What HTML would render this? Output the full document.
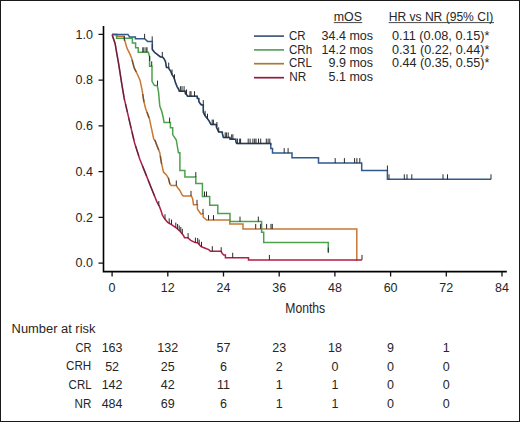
<!DOCTYPE html>
<html><head><meta charset="utf-8"><style>
html,body{margin:0;padding:0;background:#fff;}
body{width:520px;height:422px;overflow:hidden;}
svg{display:block;}
text{font-family:"Liberation Sans",sans-serif;fill:#262626;}
</style></head><body>
<svg width="520" height="422" viewBox="0 0 520 422">
<rect x="0.5" y="0.5" width="519" height="421" fill="#fff" stroke="#1a1a1a" stroke-width="1"/>
<!-- axes -->
<g stroke="#000" fill="none" stroke-width="1.6">
<path d="M103.5 26 V271.6 H506.8"/>
</g>
<g stroke="#111" fill="none" stroke-width="1.3">
<path d="M98.5 34.3H103.5M98.5 80.1H103.5M98.5 125.9H103.5M98.5 171.6H103.5M98.5 217.3H103.5M98.5 263.1H103.5"/>
<path d="M112.1 271.5V276.5M167.8 271.5V276.5M223.5 271.5V276.5M279.2 271.5V276.5M334.9 271.5V276.5M390.6 271.5V276.5M446.3 271.5V276.5M502 271.5V276.5"/>
</g>
<g font-size="12.5" text-anchor="end">
<text x="93" y="38.6">1.0</text>
<text x="93" y="84.4">0.8</text>
<text x="93" y="130.2">0.6</text>
<text x="93" y="175.9">0.4</text>
<text x="93" y="221.6">0.2</text>
<text x="93" y="267.4">0.0</text>
</g>
<g font-size="12.5" text-anchor="middle">
<text x="112.1" y="292.2">0</text>
<text x="167.8" y="292.2">12</text>
<text x="223.5" y="292.2">24</text>
<text x="279.2" y="292.2">36</text>
<text x="334.9" y="292.2">48</text>
<text x="390.6" y="292.2">60</text>
<text x="446.3" y="292.2">72</text>
<text x="502" y="292.2">84</text>
</g>
<text x="285.3" y="313.3" font-size="15" textLength="39.9" lengthAdjust="spacingAndGlyphs">Months</text>

<!-- legend -->
<g font-size="12.5">
<text x="333.8" y="20.9" textLength="28.2" lengthAdjust="spacingAndGlyphs">mOS</text>
<text x="388.7" y="20.9" textLength="104.6" lengthAdjust="spacingAndGlyphs">HR vs NR (95% CI)</text>
</g>
<g stroke="#333" stroke-width="0.9"><path d="M333.8 22.6H362.2M388.7 22.6H494"/></g>
<g stroke-width="1.7">
<path d="M254 36.1H284" stroke="#42597e"/>
<path d="M254 49.9H284" stroke="#5ea05e"/>
<path d="M254 63.7H284" stroke="#a8783a"/>
<path d="M254 77.7H284" stroke="#8e1e40"/>
</g>
<g font-size="12.5">
<text x="289" y="39.6" textLength="16.6" lengthAdjust="spacingAndGlyphs">CR</text>
<text x="289" y="53.5" textLength="23.2" lengthAdjust="spacingAndGlyphs">CRh</text>
<text x="289" y="67.3" textLength="23" lengthAdjust="spacingAndGlyphs">CRL</text>
<text x="289.2" y="81.1" textLength="17" lengthAdjust="spacingAndGlyphs">NR</text>
</g>
<g font-size="12.5" text-anchor="end">
<text x="373" y="39.6">34.4 mos</text>
<text x="373" y="53.5">14.2 mos</text>
<text x="373" y="67.3">9.9 mos</text>
<text x="373" y="81.1">5.1 mos</text>
</g>
<g font-size="12.5">
<text x="392" y="39.6" textLength="97.4" lengthAdjust="spacingAndGlyphs">0.11 (0.08, 0.15)*</text>
<text x="392" y="53.5" textLength="97.4" lengthAdjust="spacingAndGlyphs">0.31 (0.22, 0.44)*</text>
<text x="392" y="67.3" textLength="97.4" lengthAdjust="spacingAndGlyphs">0.44 (0.35, 0.55)*</text>
</g>

<!-- risk table -->
<text x="11.6" y="332.5" font-size="12.5" textLength="83.8" lengthAdjust="spacingAndGlyphs">Number at risk</text>
<g font-size="12.5" text-anchor="end">
<text x="91.4" y="351.6" textLength="16" lengthAdjust="spacingAndGlyphs">CR</text>
<text x="91.2" y="370.4" textLength="25.2" lengthAdjust="spacingAndGlyphs">CRH</text>
<text x="91.6" y="389.3" textLength="23" lengthAdjust="spacingAndGlyphs">CRL</text>
<text x="91.4" y="407.9" textLength="16.8" lengthAdjust="spacingAndGlyphs">NR</text>
</g>
<g font-size="12.5" text-anchor="middle">
<text x="112.1" y="351.5">163</text><text x="167.8" y="351.5">132</text><text x="223.5" y="351.5">57</text><text x="279.2" y="351.5">23</text><text x="334.9" y="351.5">18</text><text x="390.6" y="351.5">9</text><text x="446.3" y="351.5">1</text>
<text x="112.1" y="370.5">52</text><text x="167.8" y="370.5">25</text><text x="223.5" y="370.5">6</text><text x="279.2" y="370.5">2</text><text x="334.9" y="370.5">0</text><text x="390.6" y="370.5">0</text><text x="446.3" y="370.5">0</text>
<text x="112.1" y="389">142</text><text x="167.8" y="389">42</text><text x="223.5" y="389">11</text><text x="279.2" y="389">1</text><text x="334.9" y="389">1</text><text x="390.6" y="389">0</text><text x="446.3" y="389">0</text>
<text x="112.1" y="407.6">484</text><text x="167.8" y="407.6">69</text><text x="223.5" y="407.6">6</text><text x="279.2" y="407.6">1</text><text x="334.9" y="407.6">1</text><text x="390.6" y="407.6">0</text><text x="446.3" y="407.6">0</text>
</g>

<!-- curves -->
<g id="curves" fill="none" stroke-width="1.5" stroke-linejoin="miter">
<path d="M112 34.4 H117 V36.2 H123.6 L127 48.2 L130.3 54.9 L131.7 58.6 L132.7 62.2 L134.2 67.9 L137.5 74.5 L140 80.2 L142.2 90.6 L143.8 101 L145.6 108.5 L149.4 118.7 L153.7 139 L155 140.5 L157 145.7 L159.8 152.8 L161.4 162.8 L163.5 172 L166.4 174.9 L168.5 178.4 L169.9 184.1 L171.3 185.5 H176.3 L177.7 187.7 L179.9 190.5 L182 194.8 L183.4 195.9 H191.4 L192.7 199 L193.5 204.8 H197.4 V209 L200.8 213.9 H203.2 V217.2 L206.6 220.1 H229.8 V223.9 H243 V228.9 H356.8 V261" stroke="#c87833"/>
<path d="M112 34.4 H116.5 V38.2 H132.4 V43.1 H135.6 V47.8 H138.2 V52.3 H148.3 L149.6 56.7 V66.3 H152 V81.3 L154.4 85.6 H157.2 L158.5 91.7 L159.8 106 L161.7 111.3 L163 116.5 L164.1 122.6 H170.4 V127.7 H172.7 V134.6 L176.3 140 L178.4 152.8 H179.9 V170.6 H184.9 V177.1 H195.8 V183.6 H202.4 V196.5 H209.7 V205.2 H217.8 V213.6 H230 V221.6 H261.6 V232.3 H263.7 V242.6 H328.3 V252.6" stroke="#4ca24c"/>
<path d="M112 34.4 H127.9 L129.6 36.9 H135.4 V38.8 H144.6 L147.6 41.4 H152.3 V49.5 L154.5 52.3 L157.5 54.6 L160.4 56.9 H162.3 L163.9 58.5 L165.5 61.7 L166.5 67.6 H168.7 L169.2 69.2 L170.8 71.3 L171.9 74.5 L173.5 76.7 L174.5 79.3 L175.6 83.1 L177.2 86.8 L178.8 89.5 L179.3 91.2 H185.3 V93.4 L187.5 95.8 V96.2 H197.3 V98.6 H198.8 V101.5 L200.4 103.9 L201.6 105.1 H203.3 V112.2 L205.1 115.8 L207.5 118.7 L209.2 121.1 L211 124.6 H216.4 V127 L218.7 132 H222.3 V133.5 L223.4 137.4 H230 V139.3 H235.8 V141.8 L236.8 143.6 H270.8 V148.5 H272.5 V153.1 H292 V157.7 H318.5 V163.1 H361.7 V170.5 H387.4 V179.3 H491" stroke="#31598c"/>
<path d="M112 34.4 L115.1 43.5 L116.7 53 L118.4 62.4 L119.9 71.9 L121.8 84.2 L124.2 98.4 L127.5 112.7 L130.8 126.9 L134.6 143 L139.8 159.2 L145.5 173.4 L151.2 187.7 L156.9 201.9 L159.6 206.9 L161.5 212 L162.3 215 L164.6 218.8 L167.7 222.3 L171.5 224.6 L175.4 227.3 L180 231.2 L183.1 235 L184.6 237.7 H187.7 L190.8 240.4 L194.6 242.3 L198.1 243.1 L199.2 244.6 L200.8 246.5 L202.7 247.3 L206.5 248.8 L208.8 249.6 L210.4 251.2 H220.8 L222.3 253.5 L223.8 255 H225.4 V257.8 H248.5 V259.9 H361.9" stroke="#b01e46"/>
<path d="M152.30 44.00L152.30 49.50 M152.30 49.50L154.50 52.30 M154.50 52.30L157.50 54.60 M157.50 54.60L160.40 56.90 M160.40 56.90L162.30 56.90 M162.30 56.90L163.90 58.50 M163.90 58.50L165.50 61.70 M165.50 61.70L166.50 67.60 M166.50 67.60L168.70 67.60 M168.70 67.60L169.20 69.20 M169.20 69.20L170.80 71.30 M170.80 71.30L171.90 74.50 M171.90 74.50L173.50 76.70 M173.50 76.70L174.50 79.30 M174.50 79.30L175.60 83.10 M175.60 83.10L177.20 86.80 M177.20 86.80L178.80 89.50 M178.80 89.50L179.30 91.20 M179.30 91.20L185.30 91.20 M185.30 91.20L185.30 93.40 M185.30 93.40L187.50 95.80 M187.50 95.80L187.50 96.20 M187.50 96.20L197.30 96.20 M197.30 96.20L197.30 98.60 M197.30 98.60L198.80 98.60 M198.80 98.60L198.80 101.50 M198.80 101.50L200.40 103.90 M200.40 103.90L201.60 105.10 M201.60 105.10L203.30 105.10 M203.30 105.10L203.30 112.20 M203.30 112.20L205.10 115.80 M205.10 115.80L207.50 118.70 M207.50 118.70L209.20 121.10 M209.20 121.10L211.00 124.60 M211.00 124.60L216.40 124.60 M216.40 124.60L216.40 127.00 M216.40 127.00L218.70 132.00 M218.70 132.00L222.30 132.00 M222.30 132.00L222.30 133.50 M222.30 133.50L223.40 137.40 M223.40 137.40L230.00 137.40 M230.00 137.40L230.00 139.30 M230.00 139.30L235.80 139.30 M235.80 139.30L235.80 141.80 M235.80 141.80L236.80 143.60 M236.80 143.60L270.80 143.60 M270.80 143.60L270.80 145.00" stroke="#1a1a22" stroke-opacity="0.45" stroke-width="1.5"/>
<path d="M112.55 36.00L115.10 43.50 M115.10 43.50L116.70 53.00 M116.70 53.00L118.40 62.40 M118.40 62.40L119.90 71.90 M119.90 71.90L121.80 84.20 M121.80 84.20L124.20 98.40 M124.20 98.40L124.57 100.00 M125.49 104.00L127.34 112.00 M128.73 118.00L130.80 126.90 M130.80 126.90L131.06 128.00 M132.00 132.00L133.89 140.00 M135.56 146.00L138.77 156.00 M142.53 166.00L145.50 173.40 M145.50 173.40L146.54 176.00 M148.13 180.00L151.20 187.70 M151.20 187.70L154.53 196.00" stroke="#1a1a22" stroke-opacity="0.45" stroke-width="1.5"/>
<path d="M132.09 60.00L132.70 62.20 M132.70 62.20L134.20 67.90 M134.20 67.90L136.25 72.00 M142.72 94.00L143.80 101.00 M143.80 101.00L144.04 102.00 M146.90 112.00L149.14 118.00 M154.57 140.00L155.00 140.50 M155.00 140.50L157.00 145.70 M157.00 145.70L158.70 150.00 M160.31 156.00L161.40 162.80 M161.40 162.80L161.67 164.00 M168.26 178.00L168.50 178.40 M168.50 178.40L169.88 184.00" stroke="#1a1a22" stroke-opacity="0.45" stroke-width="1.5"/>
</g>
<g id="ticks" fill="none" stroke="#2a2a2a" stroke-width="1">
<path d="M124.3 35.8V40.8 M176.3 180.5V185.5 M191 190.9V195.9 M197 199.8V204.8 M203 208.9V213.9 M208.5 215.1V220.1 M213.5 215.1V220.1 M255.7 223.9V228.9 M260.6 223.9V228.9 M266.6 223.9V228.9 M271 223.9V228.9 M272.3 223.9V228.9"/>
<path d="M142.8 47.3V52.3 M143.9 47.3V52.3 M146 47.3V52.3 M147 47.3V52.3 M149.6 56V61 M151.7 61.3V66.3 M157.5 80.6V85.6 M169.6 117.6V122.6 M195.8 172.1V177.1 M204.5 191.5V196.5 M206.5 191.5V196.5 M240 216.6V221.6 M258.3 216.6V221.6 M328.3 247.6V252.6"/>
<path d="M144.6 33.8V38.8 M152.2 36.4V41.4 M162.3 51.9V56.9 M168.7 62.599999999999994V67.6 M172 69.5V74.5 M174.5 74.3V79.3 M180.4 86.2V91.2 M182 86.2V91.2 M184.1 86.2V91.2 M186.5 89.5V94.5 M190 91.2V96.2 M191 91.2V96.2 M194.5 91.2V96.2 M203.3 100.1V105.1 M205.1 110.8V115.8 M207.5 113.7V118.7 M212.2 119.6V124.6 M213.4 119.6V124.6 M216.9 122V127 M218.7 127.30000000000001V132.3 M225.2 132.4V137.4 M226.4 132.4V137.4 M228.2 132.4V137.4 M231.7 134.3V139.3 M232.9 134.3V139.3 M237.4 138.6V143.6 M239.7 138.6V143.6 M240.6 138.6V143.6 M248.2 138.6V143.6 M250.1 138.6V143.6 M252.9 138.6V143.6 M254.7 138.6V143.6 M256 138.6V143.6 M258.5 138.6V143.6 M260.7 138.6V143.6 M266.3 138.6V143.6 M268.1 138.6V143.6 M269.8 138.6V143.6 M284.2 148.1V153.1 M288.1 148.1V153.1 M335.2 158.1V163.1 M344.4 158.1V163.1 M354.6 158.1V163.1 M356.9 158.1V163.1 M359.8 158.1V163.1 M387.4 165.5V170.5 M389 174.3V179.3 M404.3 174.3V179.3 M407 174.3V179.3 M411.8 174.3V179.3 M443 174.3V179.3 M447.5 174.3V179.3 M491 174.3V179.3"/>
<path d="M158.8 201V206 M165 214.2V219.2 M169.2 218.3V223.3 M171.5 219.6V224.6 M175.8 222.6V227.6 M177.6 224V229 M179.2 225.5V230.5 M180.8 227V232 M182.3 228.8V233.8 M188.1 233.1V238.1 M195.4 237.6V242.6 M197.7 238V243 M199.2 239.6V244.6 M201.5 241.8V246.8 M212.3 246.2V251.2 M221.2 247.2V252.2 M232.7 252.8V257.8 M269.4 254.89999999999998V259.9 M362 254.89999999999998V259.9"/>
</g>
</svg>
</body></html>
